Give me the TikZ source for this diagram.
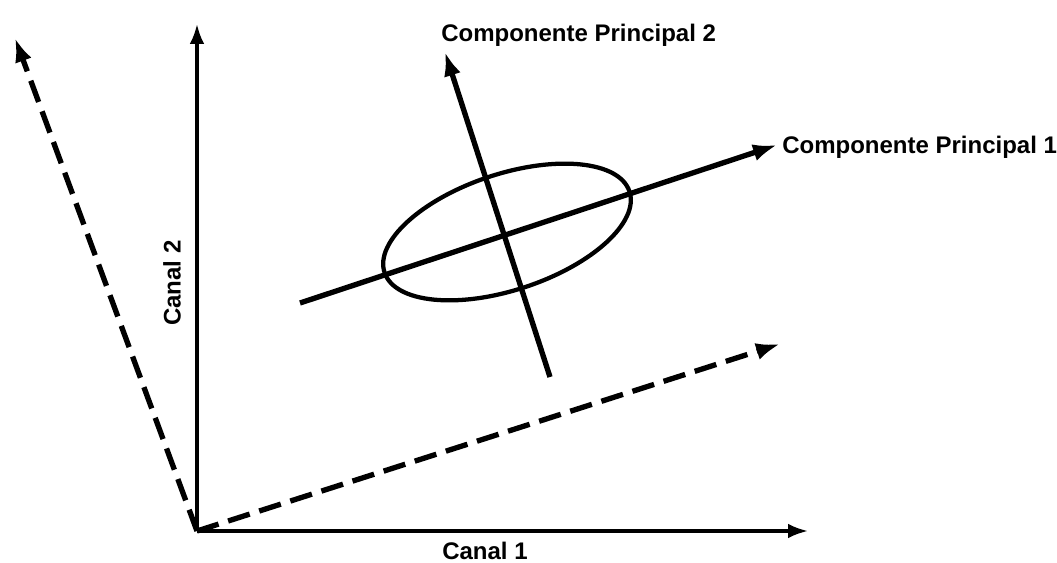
\documentclass[tikz,border=0pt]{standalone}
\usepackage{fontspec}
\setmainfont{Liberation Sans}
\usetikzlibrary{arrows.meta}

\begin{document}
\begin{tikzpicture}[x=0.75pt,y=-0.75pt,
 axis/.style={line width=2.4pt,-{Latex[length=15pt,width=11pt]}},
 comp/.style={line width=4pt,-{Latex[length=18pt,width=13pt]}},
 rotated/.style={line width=4pt,dash pattern=on 17pt off 7.5pt,-{Latex[length=18pt,width=13pt]}},
 lbl/.style={font=\fontsize{18}{20}\selectfont\bfseries,inner sep=0pt}]
\useasboundingbox (0,0) rectangle (1057,563);
\coordinate (origin) at (197,531);
\coordinate (xend) at (808,531);
\coordinate (yend) at (197,24);
\coordinate (uend) at (15,38);
\coordinate (vend) at (780,344);
\coordinate (ctr) at (507,232);
\coordinate (pcas) at (300,303);
\coordinate (pcae) at (777,145);
\coordinate (pcbs) at (550,377);
\coordinate (pcbe) at (445,52);
\foreach \e in {xend,yend}
 \draw[axis] (origin) -- (\e);
\foreach \e in {uend,vend}
 \draw[rotated] (origin) -- (\e);
\draw[line width=3.2pt,rotate around={18.3:(ctr)}] (ctr) ellipse [x radius=129,y radius=58];
\draw[comp] (pcas) -- (pcae);
\draw[comp] (pcbs) -- (pcbe);
\node[lbl] (canal1) at (485,551) {Canal 1};
\node[lbl,rotate=90] (canal2) at (172,283) {Canal 2};
\node[lbl,anchor=west] (pc1) at (782,147) {Componente Principal 1};
\node[lbl,anchor=west] (pc2) at (441,35) {Componente Principal 2};
\end{tikzpicture}
\end{document}
